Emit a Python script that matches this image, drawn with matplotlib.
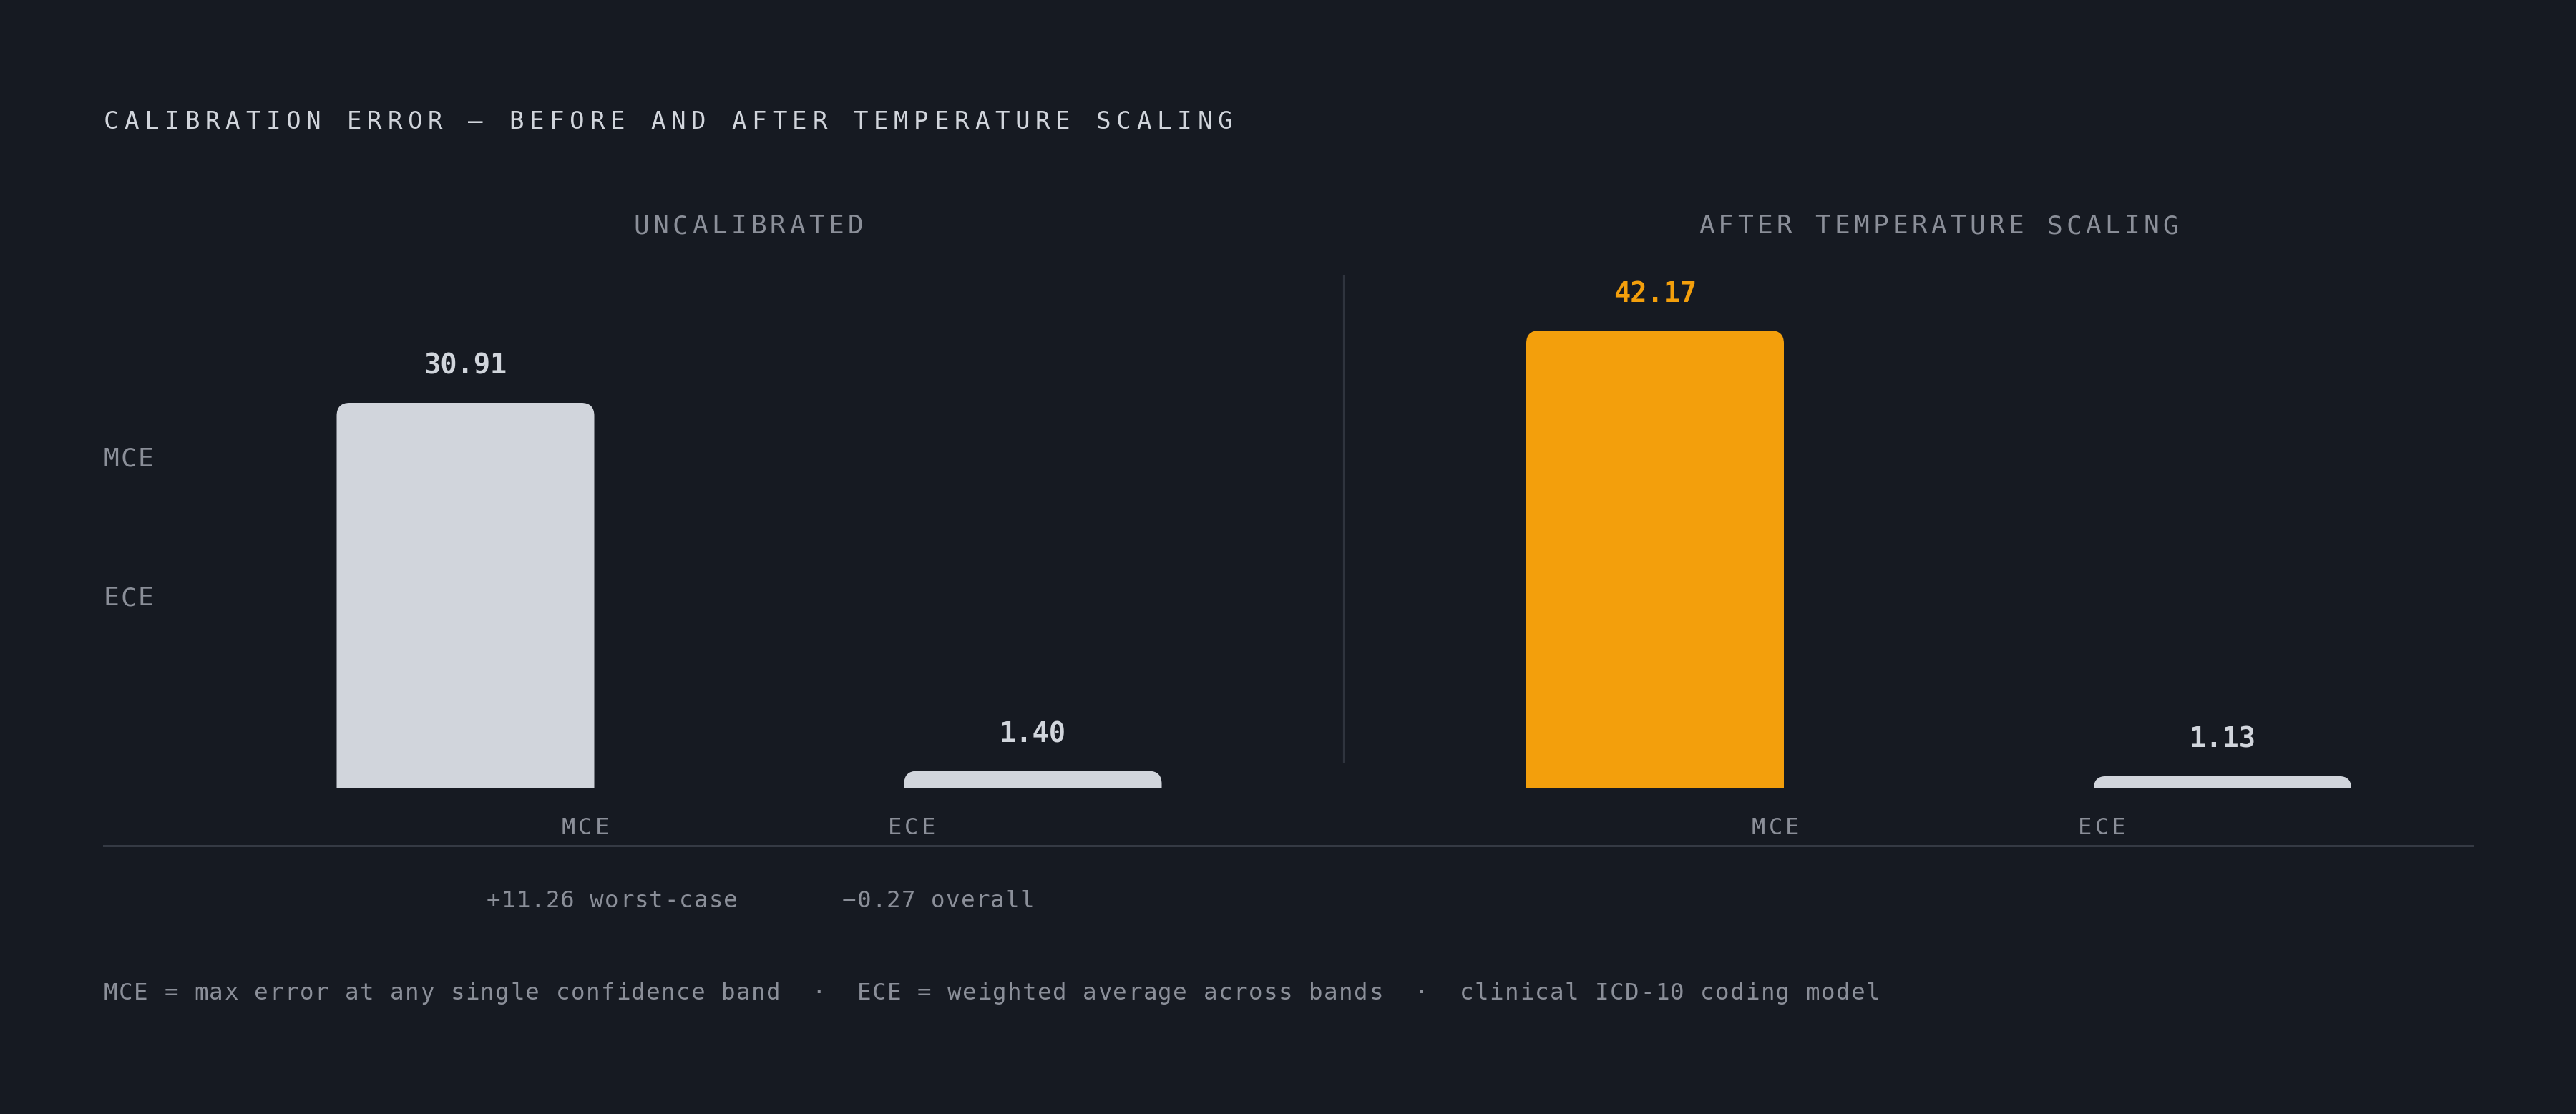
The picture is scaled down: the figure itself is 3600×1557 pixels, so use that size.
import numpy as np
import matplotlib
matplotlib.use("Agg")
import matplotlib.pyplot as plt
from matplotlib.path import Path
from matplotlib.patches import PathPatch

# data
panels = ["UNCALIBRATED", "AFTER TEMPERATURE SCALING"]
metrics = ["MCE", "ECE"]
uncalibrated = [30.91, 1.40]
after_scaling = [42.17, 1.13]
delta_notes = ["worst-case", "overall"]
title = "CALIBRATION ERROR \u2014 BEFORE AND AFTER TEMPERATURE SCALING"
footer = ("MCE = max error at any single confidence band  \u00b7  "
          "ECE = weighted average across bands  \u00b7  clinical ICD-10 coding model")

BG = "#161a22"
LIGHT = "#d1d5dc"
GRAY = "#8b8f99"
ORANGE = "#f39f0c"
RULE = "#353a44"
FONT = "DejaVu Sans Mono"

W, H, DPI = 3600, 1557, 200
PT = DPI / 72.0

fig = plt.figure(figsize=(W / DPI, H / DPI), dpi=DPI, facecolor=BG)


def fx(x):
    return x / W


def fy(y):
    return 1 - y / H


def spaced(x, y, s, size, adv, color, ha="left", weight="normal"):
    # draw letter-spaced monospace text, x/y in pixels (y = baseline)
    n = len(s)
    if ha == "center":
        x0 = x - (n - 1) / 2 * adv
    else:
        x0 = x + 0.3 * size * PT
    for i, ch in enumerate(s):
        if ch == " ":
            continue
        fig.text(fx(x0 + i * adv), fy(y), ch, ha="center", va="baseline",
                 fontsize=size, color=color, family=FONT, weight=weight)


def rounded_bar(ax, xc, width, h, r_px, color):
    ux, uy = ax.transData.transform([(1, 1)])[0] - ax.transData.transform([(0, 0)])[0]
    hp = h * uy
    r = min(r_px, hp)
    rx, ry = r / ux, r / uy
    x0, x1 = xc - width / 2, xc + width / 2
    verts = [(x0, 0), (x0, h - ry), (x0, h), (x0 + rx, h), (x1 - rx, h),
             (x1, h), (x1, h - ry), (x1, 0), (x0, 0)]
    codes = [Path.MOVETO, Path.LINETO, Path.CURVE3, Path.CURVE3, Path.LINETO,
             Path.CURVE3, Path.CURVE3, Path.LINETO, Path.CLOSEPOLY]
    ax.add_patch(PathPatch(Path(verts, codes), facecolor=color, edgecolor="none"))


# layout (pixels)
base_y = 1102
ax_top = 402
step = 793
bar_w = 360 / step
centers = [650.5, 2313]
bar_px = [539, 640]   # pixel height of the tallest bar in each panel
series = [uncalibrated, after_scaling]

spaced(145, 180, title, 12.3, 28.3, LIGHT)

for p, (name, vals) in enumerate(zip(panels, series)):
    left = centers[p] - step / 2
    ax = fig.add_axes([fx(left), fy(base_y), (2 * step) / W, (base_y - ax_top) / H])
    ax.set_facecolor("none")
    ax.set_xlim(-0.5, 1.5)
    vmax = max(vals)
    ax.set_ylim(0, vmax * (base_y - ax_top) / bar_px[p])
    ax.axis("off")
    for i, v in enumerate(vals):
        highlight = (p == 1 and i == 0)
        col = ORANGE if highlight else LIGHT
        rounded_bar(ax, i, bar_w, v, 18, col)
        ax.annotate(f"{v:.2f}", xy=(i, v), xytext=(0, 40 / PT),
                    textcoords="offset points", ha="center", va="baseline",
                    fontsize=13.9, weight="bold", color=col, family=FONT)

# panel headers
spaced(1046, 326.5, panels[0], 13, 27.2, GRAY, ha="center")
spaced(2709, 326.5, panels[1], 13, 27.0, GRAY, ha="center")

# left-side labels
spaced(145, 651.5, metrics[0], 13, 24, GRAY)
spaced(145, 846.5, metrics[1], 13, 24, GRAY)

# x labels
for xs in ([818, 1274], [2481, 2937]):
    for xx, m in zip(xs, metrics):
        spaced(xx, 1166.5, m, 11.5, 23.5, GRAY, ha="center")

# divider and rule
fig.add_artist(plt.Line2D([fx(1878), fx(1878)], [fy(386), fy(1065)],
                          color="#2f343e", lw=0.8))
fig.add_artist(plt.Line2D([fx(145), fx(3456)], [fy(1182), fy(1182)],
                          color=RULE, lw=1.1))

# deltas
for xx, a, b, note in zip([855, 1311], uncalibrated, after_scaling, delta_notes):
    d = b - a
    sign = "+" if d >= 0 else "\u2212"
    spaced(xx, 1268, f"{sign}{abs(d):.2f} {note}", 11.7, 20.7, GRAY, ha="center")

# footer
spaced(145, 1397, footer, 11.7, 21.05, GRAY)

fig.savefig("out.png", dpi=DPI, facecolor=BG)
